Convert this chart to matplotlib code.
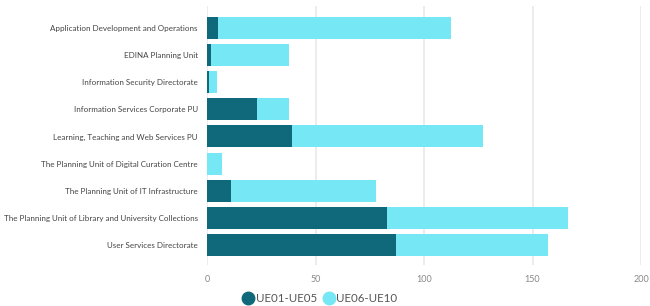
import matplotlib
matplotlib.use("Agg")
import matplotlib.pyplot as plt
from matplotlib.lines import Line2D

categories = [
    "Application Development and Operations",
    "EDINA Planning Unit",
    "Information Security Directorate",
    "Information Services Corporate PU",
    "Learning, Teaching and Web Services PU",
    "The Planning Unit of Digital Curation Centre",
    "The Planning Unit of IT Infrastructure",
    "The Planning Unit of Library and University Collections",
    "User Services Directorate",
]
ue01_ue05 = [5, 2, 1, 23, 39, 0, 11, 83, 87]
ue06_ue10 = [107.5, 36, 3.5, 15, 88, 7, 67, 83.5, 70]
series_names = ["UE01-UE05", "UE06-UE10"]
x_ticks = [0, 50, 100, 150, 200]

dark = "#10697A"
light = "#76E7F4"

plt.rcParams['font.family'] = ['Lato', 'DejaVu Sans']
fig = plt.figure(figsize=(6.5, 3.06), dpi=100)
W, H = 650, 306
ax = fig.add_axes([207 / W, 1 - 265 / H, (641 - 207) / W, (265 - 6) / H])

y = list(range(len(categories)))
ax.barh(y, ue01_ue05, height=0.81, color=dark, zorder=3)
ax.barh(y, ue06_ue10, left=ue01_ue05, height=0.81, color=light, zorder=3)

ax.set_ylim(len(categories) - 1 + 0.74, -0.81)
ax.set_xlim(0, 200)
ax.set_xticks(x_ticks)
ax.set_yticks(y)
ax.set_yticklabels(categories, fontsize=5.8, color="#444444")
ax.tick_params(axis='x', labelsize=6.5, colors="#888888", length=0, pad=7)
ax.tick_params(axis='y', length=0, pad=6.5)
for s in ax.spines.values():
    s.set_visible(False)
ax.grid(axis='x', color="#e9e9e9", linewidth=1.2, zorder=0)
ax.set_axisbelow(True)

handles = [Line2D([], [], marker='o', linestyle='none', markersize=9,
                  markerfacecolor=c, markeredgecolor=c) for c in (dark, light)]
fig.legend(handles, series_names, loc='center', bbox_to_anchor=(319 / W, 1 - 299 / H),
           ncol=2, frameon=False, fontsize=8.3, handletextpad=0.05, columnspacing=0.4,
           handlelength=1.25, labelcolor="#555555")

fig.savefig("out.png", dpi=100)
